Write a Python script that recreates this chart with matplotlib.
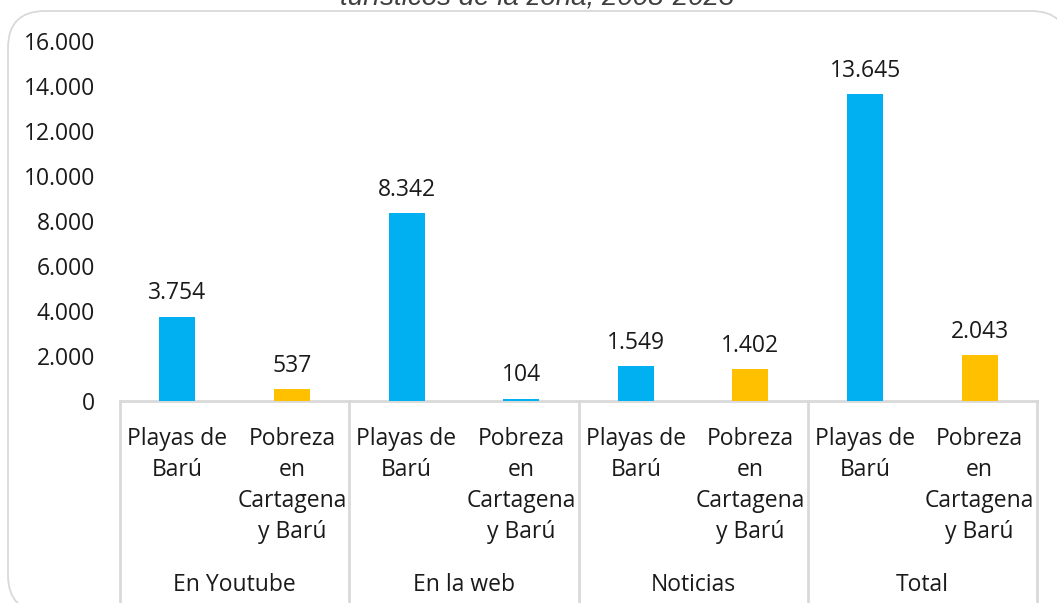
import matplotlib.pyplot as plt
import matplotlib.transforms as mtransforms
from matplotlib.patches import FancyBboxPatch

plt.rcParams['font.family'] = ['Open Sans', 'DejaVu Sans']

# datos
grupos = ["En Youtube", "En la web", "Noticias", "Total"]
subcats = ["Playas de\nBarú", "Pobreza\nen\nCartagena\ny Barú"]
valores = [3754, 537, 8342, 104, 1549, 1402, 13645, 2043]
colores = ["#00B0F0", "#FFC000", "#00B0F0", "#00B0F0",
           "#00B0F0", "#FFC000", "#00B0F0", "#FFC000"]
yticks = [0, 2000, 4000, 6000, 8000, 10000, 12000, 14000, 16000]

W, H = 1057, 603
FS = 16.5


def fmt(v):
    return f"{v:,}".replace(",", ".")


fig = plt.figure(figsize=(W / 100, H / 100), dpi=100)

# marco redondeado
marco = FancyBboxPatch((8 / W, 1 - 612 / H), (1068 - 8) / W, (612 - 11) / H,
                       boxstyle="round,pad=0,rounding_size=0.035",
                       transform=fig.transFigure, facecolor="white",
                       edgecolor="#D9D9D9", linewidth=1.3, mutation_aspect=W / H,
                       clip_on=False, zorder=-5)
fig.patches.append(marco)

fig.text(537 / W, 1 - 5 / H, "turísticos de la zona, 2008-2023",
         ha="center", va="baseline", fontsize=20, style="italic",
         family=["Liberation Sans", "DejaVu Sans"], color="#404040")

ax = fig.add_axes([120 / W, 1 - 401 / H, 917 / W, 360 / H])
ax.set_facecolor("none")

x = list(range(len(valores)))
ax.bar(x, valores, width=0.315, color=colores, zorder=3)

for xi, v in zip(x, valores):
    ax.annotate(fmt(v), (xi, v), xytext=(0, 12.5), textcoords="offset points",
                ha="center", va="baseline", fontsize=FS, color="#1a1a1a")

ax.set_xlim(-0.5, len(valores) - 0.5)
ax.set_ylim(0, 16000)
ax.set_yticks(yticks)
ax.set_yticklabels([fmt(t) for t in yticks], fontsize=FS, color="#1a1a1a")
ax.tick_params(axis="y", length=0, pad=18)
ax.set_xticks([])
for s in ["top", "right", "left"]:
    ax.spines[s].set_visible(False)
ax.spines["bottom"].set_color("#D9D9D9")
ax.spines["bottom"].set_linewidth(2)

# etiquetas jerarquicas del eje x
tr = mtransforms.blended_transform_factory(ax.transData, fig.transFigure)
base = [445, 476, 507, 538]
for i in range(len(valores)):
    lineas = subcats[i % 2].split("\n")
    for j, linea in enumerate(lineas):
        ax.text(i, 1 - base[j] / H, linea, transform=tr, ha="center",
                va="baseline", fontsize=FS, color="#1a1a1a")
for g, nombre in enumerate(grupos):
    ax.text(2 * g + 0.5, 1 - 591 / H, nombre, transform=tr, ha="center",
            va="baseline", fontsize=FS, color="#1a1a1a")
for sep in [-0.5, 1.5, 3.5, 5.5, 7.5]:
    ax.plot([sep, sep], [1 - 401 / H, 0], transform=tr, color="#D9D9D9",
            linewidth=2, clip_on=False)

fig.savefig("out.png", dpi=100)
